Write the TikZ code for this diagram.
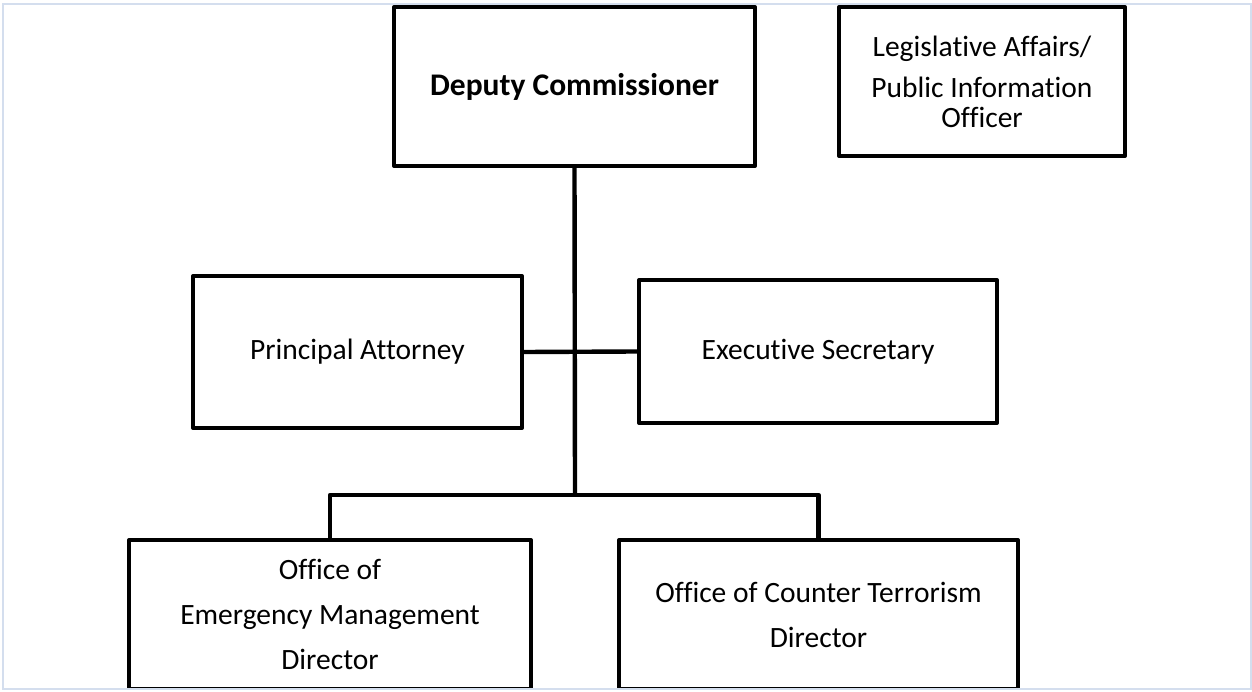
\documentclass[tikz,border=0pt]{standalone}
\usepackage{fontspec}
\setmainfont{Carlito}[Ligatures={NoCommon,NoRequired,NoContextual},RawFeature={-liga;-clig;-dlig}]
\definecolor{framecol}{RGB}{212,222,238}
\begin{document}
\begin{tikzpicture}[x=1pt,y=-1pt,
  box/.style={draw=black, line width=4pt, line join=round, rectangle, inner sep=0pt, align=center, anchor=center, font=\fontsize{29.5}{30}\selectfont},
  conn/.style={draw=black, line width=4.4pt, line join=round}]
\useasboundingbox (0,0) rectangle (1252,692);
\fill[white] (0,0) rectangle (1252,692);
\draw[framecol, line width=2pt] (3,4.5) rectangle (1250.5,689);
\begin{scope}
\clip (0,0) rectangle (1252,687);
\node[box, minimum width=361pt, minimum height=159pt, font=\fontsize{31.5}{34}\selectfont\bfseries] (dep) at (574.5,86.5) {Deputy Commissioner};
\node[box, minimum width=286pt, minimum height=149pt] (leg) at (982,81.5) {Legislative Affairs/\\[11pt]Public Information\\Officer};
\node[box, minimum width=329pt, minimum height=152pt] (pa) at (357.5,352) {Principal Attorney};
\node[box, minimum width=358pt, minimum height=143pt] (es) at (818,351.5) {Executive Secretary};
\node[box, minimum width=402pt, minimum height=149pt, font=\fontsize{29.5}{45}\selectfont] (em) at (330,614.5) {Office of\\Emergency Management\\Director};
\node[box, minimum width=399pt, minimum height=149pt, font=\fontsize{29.5}{45}\selectfont] (ct) at (818.5,614.5) {Office of Counter Terrorism\\Director};
\end{scope}
\coordinate (j) at (575,495);
\draw[conn] (dep.south) -- (j);
\draw[conn] (em.north) |- (j) -| (ct.north);
\draw[conn] (pa.east) -- (es.west);
\end{tikzpicture}
\end{document}
